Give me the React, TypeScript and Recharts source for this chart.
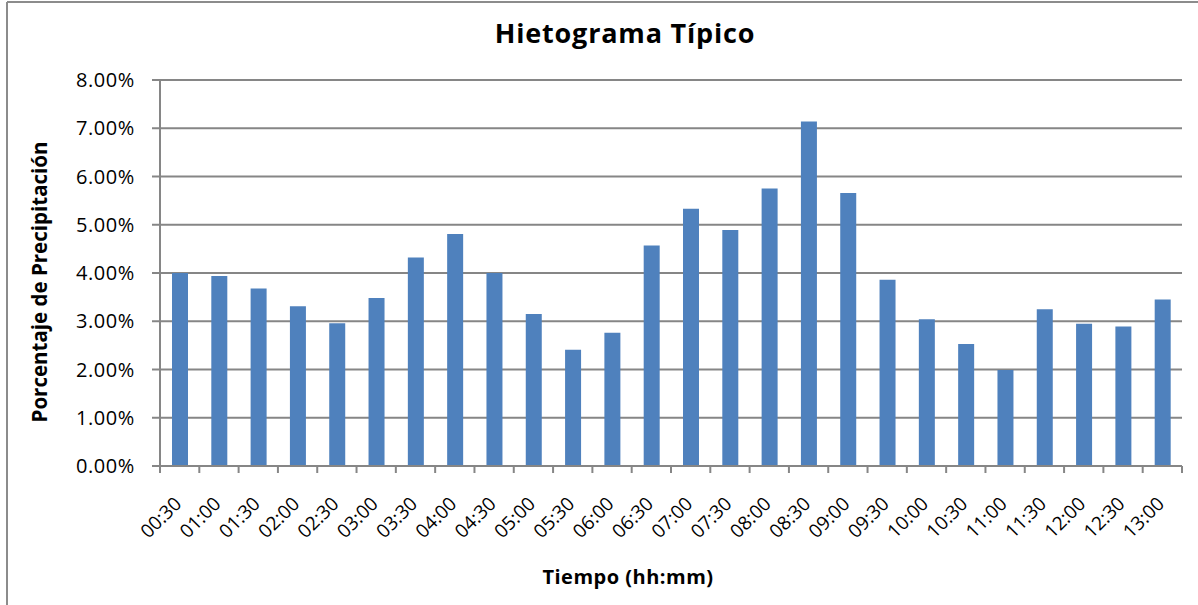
import React from 'react';
import { BarChart, Bar, XAxis, YAxis, CartesianGrid } from 'recharts';

const times = [
  '00:30', '01:00', '01:30', '02:00', '02:30', '03:00', '03:30', '04:00', '04:30',
  '05:00', '05:30', '06:00', '06:30', '07:00', '07:30', '08:00', '08:30', '09:00',
  '09:30', '10:00', '10:30', '11:00', '11:30', '12:00', '12:30', '13:00',
];

// porcentaje de precipitación (en %)
const porcentajes = [
  4.0, 3.94, 3.68, 3.31, 2.96, 3.48, 4.32, 4.81, 4.0,
  3.15, 2.41, 2.76, 4.57, 5.33, 4.89, 5.75, 7.14, 5.66,
  3.86, 3.04, 2.53, 1.99, 3.25, 2.95, 2.89, 3.45,
];

const yTicks = [0, 1, 2, 3, 4, 5, 6, 7, 8];

const data = times.map((t, i) => ({ tiempo: t, valor: porcentajes[i] }));

const W = 1198;
const H = 605;
const PLOT_LEFT = 160;
const PLOT_RIGHT = 16;
const STEP = (W - PLOT_LEFT - PLOT_RIGHT) / times.length;
const GRAY = '#868686';
const FONT = '"Open Sans", sans-serif';

const TimeTick = (props: any) => {
  const { x, y, payload, index } = props;
  const left = x - STEP / 2;
  return (
    <g>
      <line x1={left} y1={y} x2={left} y2={y + 7} stroke={GRAY} strokeWidth={2} />
      {index === times.length - 1 && (
        <line x1={x + STEP / 2} y1={y} x2={x + STEP / 2} y2={y + 7} stroke={GRAY} strokeWidth={2} />
      )}
      <text
        x={x + 3}
        y={y + 39}
        textAnchor="end"
        transform={`rotate(-45, ${x + 3}, ${y + 39})`}
        fontFamily={FONT}
        fontSize={19}
        fill="#000"
      >
        {payload.value}
      </text>
    </g>
  );
};

export default function App() {
  return (
    <div style={{ position: 'absolute', left: 0, top: 0, width: W, height: H, background: '#fff' }}>
      <BarChart
        width={W}
        height={H}
        data={data}
        margin={{ top: 80, right: PLOT_RIGHT, left: 0, bottom: 39 }}
      >
        <CartesianGrid vertical={false} stroke={GRAY} strokeWidth={2} />
        <XAxis
          dataKey="tiempo"
          interval={0}
          height={100}
          tickLine={false}
          tickSize={0}
          tickMargin={0}
          axisLine={{ stroke: GRAY, strokeWidth: 2 }}
          tick={<TimeTick />}
        />
        <YAxis
          width={PLOT_LEFT}
          domain={[0, 8]}
          ticks={yTicks}
          interval={0}
          tickSize={8}
          tickMargin={17}
          axisLine={{ stroke: GRAY, strokeWidth: 2 }}
          tickLine={{ stroke: GRAY, strokeWidth: 2 }}
          tickFormatter={(v: number) => `${v.toFixed(2)}%`}
          tick={{ fill: '#000', fontFamily: FONT, fontSize: 20, letterSpacing: 0.6 }}
        />
        <Bar dataKey="valor" fill="#4F81BD" barSize={16} isAnimationActive={false} />
      </BarChart>
      <svg
        width={W}
        height={H}
        style={{ position: 'absolute', left: 0, top: 0, pointerEvents: 'none' }}
      >
        <line x1={7} y1={2} x2={7} y2={H} stroke="#8c8c8c" strokeWidth={2} />
        <line x1={7} y1={2} x2={W} y2={2} stroke="#8c8c8c" strokeWidth={2} />
        <text
          x={625}
          y={43}
          textAnchor="middle"
          fontFamily={FONT}
          fontWeight="bold"
          fontSize={27}
          letterSpacing={0.8}
          fill="#000"
        >
          Hietograma Típico
        </text>
        <text
          x={628}
          y={584}
          textAnchor="middle"
          fontFamily={FONT}
          fontWeight="bold"
          fontSize={20}
          letterSpacing={0.5}
          fill="#000"
        >
          Tiempo (hh:mm)
        </text>
        <text
          x={47}
          y={282}
          textAnchor="middle"
          transform="rotate(-90, 47, 282)"
          fontFamily={FONT}
          fontWeight="bold"
          fontSize={20.5}
          fill="#000"
        >
          Porcentaje de Precipitación
        </text>
      </svg>
    </div>
  );
}
